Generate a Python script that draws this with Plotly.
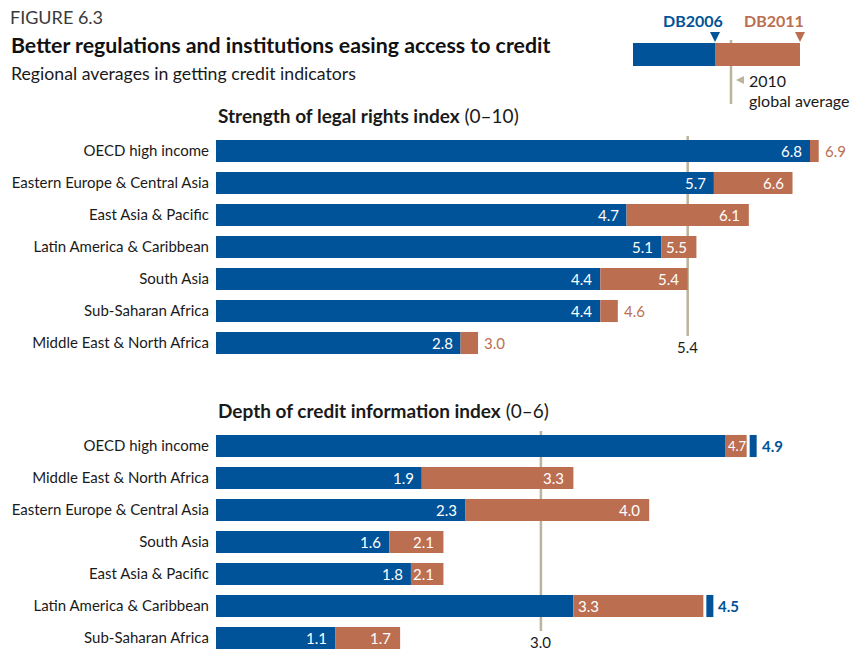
import plotly.graph_objects as go

# ---------------- data ----------------
legal_regions = ["OECD high income", "Eastern Europe & Central Asia", "East Asia & Pacific",
                 "Latin America & Caribbean", "South Asia", "Sub-Saharan Africa",
                 "Middle East & North Africa"]
legal_2006 = [6.8, 5.7, 4.7, 5.1, 4.4, 4.4, 2.8]
legal_2011 = [6.9, 6.6, 6.1, 5.5, 5.4, 4.6, 3.0]
legal_avg = 5.4

depth_regions = ["OECD high income", "Middle East & North Africa", "Eastern Europe & Central Asia",
                 "South Asia", "East Asia & Pacific", "Latin America & Caribbean",
                 "Sub-Saharan Africa"]
depth_2006 = [4.7, 1.9, 2.3, 1.6, 1.8, 3.3, 1.1]
depth_2011 = [4.9, 3.3, 4.0, 2.1, 2.1, 4.5, 1.7]
depth_flag = [True, False, False, False, False, True, False]
depth_avg = 3.0

# ---------------- style ----------------
W, H = 862, 656
BLUE = "#005398"
ORANGE = "#BC6E50"
GREY = "#BDB39B"
TXT = "#1a1a1a"
FONT = "Lato"
X0 = 216
PPU_TOP = 87.35
PPU_BOT = 108.3


def px(x):
    return x / W


def py(y):
    return 1 - y / H


fig = go.Figure()

panels = [
    dict(regions=legal_regions, v06=legal_2006, v11=legal_2011, avg=legal_avg,
         flags=[False] * 7, xa="x", ya="y", ppu=PPU_TOP, top=135),
    dict(regions=depth_regions, v06=depth_2006, v11=depth_2011, avg=depth_avg,
         flags=depth_flag, xa="x2", ya="y2", ppu=PPU_BOT, top=430),
]

annotations = []
shapes = []

for p in panels:
    regs, a, b = p["regions"], p["v06"], p["v11"]
    fig.add_trace(go.Bar(orientation="h", y=regs, x=a, marker=dict(color=BLUE, line_width=0),
                         width=0.69, xaxis=p["xa"], yaxis=p["ya"], showlegend=False,
                         hoverinfo="skip"))
    fig.add_trace(go.Bar(orientation="h", y=regs, x=[bb - aa for aa, bb in zip(a, b)], base=a,
                         marker=dict(color=ORANGE, line_width=0),
                         width=0.69, xaxis=p["xa"], yaxis=p["ya"], showlegend=False,
                         hoverinfo="skip"))
    # extra small blue markers
    fr = [r for r, f in zip(regs, p["flags"]) if f]
    fb = [bb for bb, f in zip(b, p["flags"]) if f]
    if fr:
        gap = 3 / p["ppu"]
        wid = 7 / p["ppu"]
        fig.add_trace(go.Bar(orientation="h", y=fr, x=[wid] * len(fr), base=[v + gap for v in fb],
                             marker=dict(color=BLUE, line_width=0), width=0.69,
                             xaxis=p["xa"], yaxis=p["ya"], showlegend=False, hoverinfo="skip"))
    # average line (behind bars)
    shapes.append(dict(type="line", xref=p["xa"], yref=p["ya"], x0=p["avg"], x1=p["avg"],
                       y0=-0.47, y1=5.78, line=dict(color=GREY, width=2.5), layer="below"))
    annotations.append(dict(x=p["avg"], y=6.12, xref=p["xa"], yref=p["ya"], text=f"{p['avg']:.1f}",
                            showarrow=False, font=dict(family=FONT, size=15, color=TXT)))
    for r, aa, bb, f in zip(regs, a, b, p["flags"]):
        if f:
            small = (bb - aa) * p["ppu"] < 30
            annotations.append(dict(x=aa, y=r, xref=p["xa"], yref=p["ya"], text=f"{aa:.1f}",
                                    xanchor="left", xshift=1 if small else 3, showarrow=False,
                                    font=dict(family=FONT, size=13 if small else 15,
                                              color="white")))
            annotations.append(dict(x=bb, y=r, xref=p["xa"], yref=p["ya"], text=f"<b>{bb:.1f}</b>",
                                    xanchor="left", xshift=13, showarrow=False,
                                    font=dict(family=FONT, size=15, color=BLUE)))
            continue
        annotations.append(dict(x=aa, y=r, xref=p["xa"], yref=p["ya"], text=f"{aa:.1f}",
                                xanchor="right", xshift=-6, showarrow=False,
                                font=dict(family=FONT, size=15, color="white")))
        if (bb - aa) * p["ppu"] > 25:
            annotations.append(dict(x=bb, y=r, xref=p["xa"], yref=p["ya"], text=f"{bb:.1f}",
                                    xanchor="right", xshift=-7, showarrow=False,
                                    font=dict(family=FONT, size=15, color="white")))
        else:
            annotations.append(dict(x=bb, y=r, xref=p["xa"], yref=p["ya"], text=f"{bb:.1f}",
                                    xanchor="left", xshift=4, showarrow=False,
                                    font=dict(family=FONT, size=15, color=ORANGE)))


def ptext(x, y, text, size, color, xanchor="left"):
    return dict(x=px(x), y=py(y), xref="paper", yref="paper", xanchor=xanchor, yanchor="middle",
                text=text, showarrow=False, font=dict(family=FONT, size=size, color=color))


# panel titles
annotations.append(ptext(X0, 116, "<b>Strength of legal rights index</b> (0–10)", 19, TXT))
annotations.append(ptext(X0, 410, "<b>Depth of credit information index</b> (0–6)", 19, TXT))
# header
annotations.append(ptext(8, 17, "FIGURE 6.3", 18, "#3a3a3a"))
annotations.append(ptext(9, 45, "<b>Better regulations and institutions easing access to credit</b>",
                         21.3, "#111111"))
annotations.append(ptext(9, 73, "Regional averages in getting credit indicators", 17.7, TXT))

# legend key
shapes += [
    dict(type="line", xref="paper", yref="paper", x0=px(731), x1=px(731), y0=py(40), y1=py(104),
         line=dict(color=GREY, width=2.5), layer="below"),
    dict(type="rect", xref="paper", yref="paper", x0=px(633), x1=px(715), y0=py(43), y1=py(66),
         fillcolor=BLUE, line_width=0),
    dict(type="rect", xref="paper", yref="paper", x0=px(715), x1=px(800), y0=py(43), y1=py(66),
         fillcolor=ORANGE, line_width=0),
    dict(type="path", xref="paper", yref="paper",
         path=f"M {px(710)} {py(32)} L {px(720)} {py(32)} L {px(715)} {py(42)} Z",
         fillcolor=BLUE, line_width=0),
    dict(type="path", xref="paper", yref="paper",
         path=f"M {px(795)} {py(32)} L {px(805)} {py(32)} L {px(800)} {py(42)} Z",
         fillcolor=ORANGE, line_width=0),
    dict(type="path", xref="paper", yref="paper",
         path=f"M {px(736)} {py(80)} L {px(744)} {py(76)} L {px(744)} {py(84)} Z",
         fillcolor=GREY, line_width=0),
]
annotations += [
    ptext(693, 20, "<b>DB2006</b>", 16, BLUE, "center"),
    ptext(774, 20, "<b>DB2011</b>", 16, ORANGE, "center"),
    ptext(747, 80, "2010", 16, TXT),
    ptext(747, 100, "global average", 16, TXT),
]

dom_x = [px(X0), 1]
xr_top = (W - X0) / PPU_TOP
xr_bot = (W - X0) / PPU_BOT
top0, bot0 = panels[0]["top"], panels[1]["top"]
row = 32

fig.update_layout(
    width=W, height=H, margin=dict(l=0, r=0, t=0, b=0),
    paper_bgcolor="white", plot_bgcolor="rgba(0,0,0,0)",
    barmode="overlay", showlegend=False,
    font=dict(family=FONT, color=TXT),
    xaxis=dict(domain=dom_x, range=[0, xr_top], visible=False, fixedrange=True),
    xaxis2=dict(domain=dom_x, range=[0, xr_bot], visible=False, fixedrange=True),
    yaxis=dict(domain=[py(top0 + 7 * row), py(top0)], anchor="x", range=[6.5, -0.5],
               categoryorder="array", categoryarray=legal_regions, showgrid=False,
               zeroline=False, showline=False, ticks="outside", ticklen=3,
               tickcolor="rgba(0,0,0,0)", tickfont=dict(family=FONT, size=15, color=TXT)),
    yaxis2=dict(domain=[py(bot0 + 7 * row), py(bot0)], anchor="x2", range=[6.5, -0.5],
                categoryorder="array", categoryarray=depth_regions, showgrid=False,
                zeroline=False, showline=False, ticks="outside", ticklen=3,
                tickcolor="rgba(0,0,0,0)", tickfont=dict(family=FONT, size=15, color=TXT)),
    annotations=annotations, shapes=shapes,
)

fig.write_html("out.html")
